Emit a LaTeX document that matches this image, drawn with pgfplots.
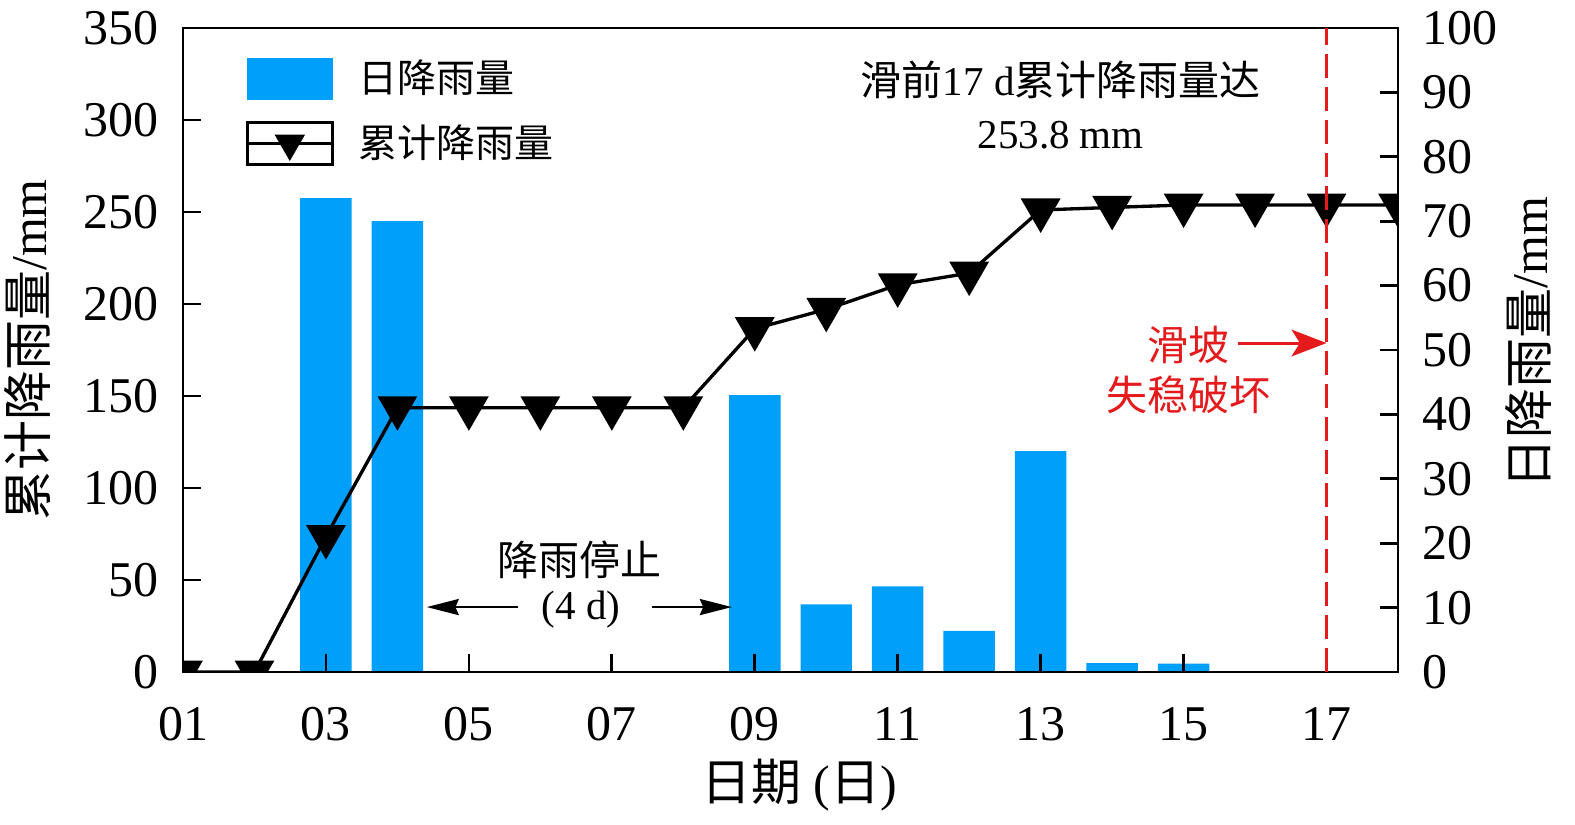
\documentclass[border=0pt]{standalone}
\usepackage{fontspec}
\setmainfont{Liberation Serif}
\newfontfamily\zh{Noto Sans CJK SC}
\usepackage{pgfplots}
\usepackage{pgfplotstable}
\pgfplotsset{compat=1.18}
\usetikzlibrary{arrows.meta}
\definecolor{barblue}{RGB}{0,160,250}
\definecolor{lred}{RGB}{228,26,28}

\pgfplotstableread{
day daily
3 73.6
4 70.0
9 43.0
10 10.5
11 13.3
12 6.4
13 34.3
14 1.4
15 1.3
}\dailytab
\pgfplotstableread{
day cum
1 0
2 0
3 73.6
4 143.6
5 143.6
6 143.6
7 143.6
8 143.6
9 186.6
10 197.1
11 210.4
12 216.8
13 251.1
14 252.5
15 253.8
16 253.8
17 253.8
18 253.8
}\cumtab

\pgfplotsset{common/.style={
  scale only axis, width=364.5pt, height=193.2pt,
  at={(0,0)}, anchor=south west,
  xmin=1, xmax=18,
  tick align=inside, major tick length=5.5pt,
  axis line style={line width=0.8pt},
  major tick style={line width=0.8pt, black},
  /pgf/number format/assume math mode=true,
  tick label style={font=\fontsize{15}{18}\selectfont},
  label style={font=\fontsize{15}{18}\selectfont},
}}

\begin{document}
\begin{tikzpicture}
\path[use as bounding box] (-54.9pt,-45.6pt) rectangle (417.6pt,201.6pt);

\begin{axis}[common,
  ymin=0, ymax=100,
  axis y line*=right, axis x line=none,
  ytick={0,10,...,100},
  yticklabel style={inner xsep=0pt, xshift=7.2pt},
  ylabel={{\zh 日降雨量}/mm},
  ylabel style={at={(axis description cs:1.107,0.511)}, anchor=center},
]
\addplot[ybar, bar width=0.72, fill=barblue, draw=none] table[x=day, y=daily] {\dailytab};
\end{axis}

\begin{axis}[common,
  ymin=0, ymax=350,
  ytick={0,50,...,350},
  xtick={1,3,...,17},
  xticklabels={01,03,05,07,09,11,13,15,17},
  xtick pos=bottom, ytick pos=left,
  clip marker paths=true,
  xticklabel style={inner ysep=0pt, yshift=-10.5pt},
  yticklabel style={inner xsep=0pt, xshift=-7.2pt},
  xlabel={{\zh 日期} ({\zh 日})},
  xlabel style={at={(axis description cs:0.507,-0.1755)}, anchor=center},
  ylabel={{\zh 累计降雨量}/mm},
  ylabel style={at={(axis description cs:-0.1276,0.5)}, anchor=center},
  legend style={at={(axis description cs:0.051,0.955)}, anchor=north west,
    draw=none, fill=none, inner sep=0pt, row sep=6.3pt, column sep=7.5pt,
    font=\fontsize{11.7}{14}\selectfont\zh, nodes={inner sep=0pt}},
  legend cell align=left,
]
\addlegendimage{legend image code/.code={\fill[barblue] (0pt,-6.15pt) rectangle (25.5pt,6.15pt);}}
\addlegendentry{日降雨量}
\addplot[black, line width=1pt, mark=triangle*, mark size=5.9pt,
  mark options={rotate=180, solid, fill=black},
  legend image code/.code={
    \draw[black, line width=0.8pt] (0pt,-6.3pt) rectangle (25.5pt,6.3pt);
    \draw[black, line width=1pt] (0pt,0pt) -- (25.5pt,0pt);
    \draw[black, line width=0.8pt, mark=triangle*, mark size=4.5pt, mark options={rotate=180, fill=black}] plot coordinates {(12.75pt,0pt)};
  }] table[x=day, y=cum] {\cumtab};
\addlegendentry{累计降雨量}

\addplot[lred, line width=0.9pt, dash pattern=on 7.2pt off 2.7pt, forget plot] coordinates {(17,0) (17,350)};

\node[font=\fontsize{12.3}{14}\selectfont] at (axis cs:13.28,321.7) {{\zh 滑前}17 d{\zh 累计降雨量达}};
\node[font=\fontsize{12.3}{14}\selectfont] at (axis cs:13.28,291.8) {253.8 mm};
\node[lred, font=\fontsize{12.3}{14}\selectfont\zh] at (axis cs:15.07,177.7) {滑坡};
\node[lred, font=\fontsize{12.3}{14}\selectfont\zh] at (axis cs:15.07,150.5) {失稳破坏};
\draw[lred, line width=0.9pt, -{Stealth[length=10.5pt,width=8pt,inset=2.5pt]}] (axis cs:15.76,178.8) -- (axis cs:17,178.8);
\node[font=\fontsize{12.3}{14}\selectfont\zh] at (axis cs:6.55,60.9) {降雨停止};
\node[font=\fontsize{12.3}{14}\selectfont] at (axis cs:6.57,33.7) {(4 d)};
\draw[line width=0.8pt, -{Stealth[length=9.6pt,width=4.8pt,inset=1pt]}] (axis cs:5.685,35.3) -- (axis cs:4.41,35.3);
\draw[line width=0.8pt, -{Stealth[length=9.6pt,width=4.8pt,inset=1pt]}] (axis cs:7.56,35.3) -- (axis cs:8.68,35.3);
\end{axis}
\end{tikzpicture}
\end{document}
